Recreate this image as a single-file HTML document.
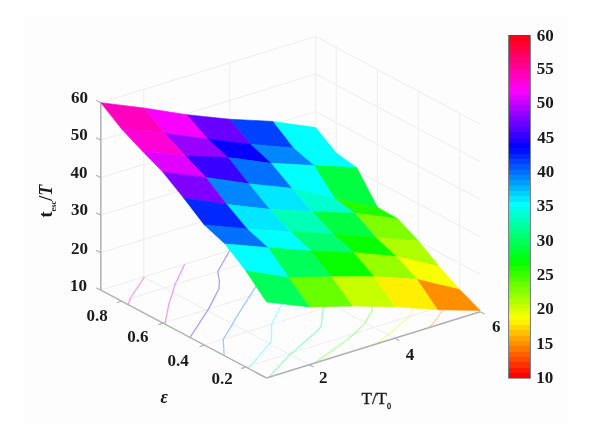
<!DOCTYPE html><html><head><meta charset="utf-8"><style>html,body{margin:0;padding:0;background:#fff;}svg{display:block;filter:blur(0.5px);}</style></head><body><svg width="600" height="429" viewBox="0 0 600 429">
<rect width="600" height="429" fill="#ffffff"/><rect x="24" y="16" width="543.5" height="408" fill="#fdfdfd"/>
<g stroke-linecap="round"><line x1="100.8" y1="290.2" x2="315.7" y2="224" stroke="#f1f1f1" stroke-width="1.3"/><line x1="100.8" y1="252.7" x2="315.7" y2="186.5" stroke="#f1f1f1" stroke-width="1.3"/><line x1="100.8" y1="215.2" x2="315.7" y2="149" stroke="#f1f1f1" stroke-width="1.3"/><line x1="100.8" y1="177.7" x2="315.7" y2="111.5" stroke="#f1f1f1" stroke-width="1.3"/><line x1="100.8" y1="140.2" x2="315.7" y2="74" stroke="#f1f1f1" stroke-width="1.3"/><line x1="100.8" y1="102.7" x2="315.7" y2="36.5" stroke="#f1f1f1" stroke-width="1.3"/><line x1="143.78" y1="276.96" x2="143.78" y2="89.46" stroke="#f1f1f1" stroke-width="1.3"/><line x1="229.74" y1="250.48" x2="229.74" y2="62.98" stroke="#f1f1f1" stroke-width="1.3"/><line x1="315.7" y1="224" x2="315.7" y2="36.5" stroke="#f1f1f1" stroke-width="1.3"/><line x1="315.7" y1="224" x2="480.2" y2="311.8" stroke="#f1f1f1" stroke-width="1.3"/><line x1="315.7" y1="186.5" x2="480.2" y2="274.3" stroke="#f1f1f1" stroke-width="1.3"/><line x1="315.7" y1="149" x2="480.2" y2="236.8" stroke="#f1f1f1" stroke-width="1.3"/><line x1="315.7" y1="111.5" x2="480.2" y2="199.3" stroke="#f1f1f1" stroke-width="1.3"/><line x1="315.7" y1="74" x2="480.2" y2="161.8" stroke="#f1f1f1" stroke-width="1.3"/><line x1="315.7" y1="36.5" x2="480.2" y2="124.3" stroke="#f1f1f1" stroke-width="1.3"/><line x1="459.64" y1="300.82" x2="459.64" y2="113.32" stroke="#f1f1f1" stroke-width="1.3"/><line x1="418.51" y1="278.88" x2="418.51" y2="91.38" stroke="#f1f1f1" stroke-width="1.3"/><line x1="377.39" y1="256.93" x2="377.39" y2="69.43" stroke="#f1f1f1" stroke-width="1.3"/><line x1="336.26" y1="234.97" x2="336.26" y2="47.47" stroke="#f1f1f1" stroke-width="1.3"/><line x1="143.78" y1="276.96" x2="309.24" y2="364.76" stroke="#f1f1f1" stroke-width="1.3"/><line x1="229.74" y1="250.48" x2="394.72" y2="338.28" stroke="#f1f1f1" stroke-width="1.3"/><line x1="315.7" y1="224" x2="480.2" y2="311.8" stroke="#f1f1f1" stroke-width="1.3"/><line x1="245.79" y1="367.02" x2="459.64" y2="300.82" stroke="#f1f1f1" stroke-width="1.3"/><line x1="204.36" y1="345.07" x2="418.51" y2="278.88" stroke="#f1f1f1" stroke-width="1.3"/><line x1="162.94" y1="323.12" x2="377.39" y2="256.93" stroke="#f1f1f1" stroke-width="1.3"/><line x1="121.51" y1="301.17" x2="336.26" y2="234.97" stroke="#f1f1f1" stroke-width="1.3"/></g>
<g><polyline points="428.37,327.86 433.8,323.09 445.98,305.05 447.01,294.08" fill="none" stroke="#ff8f00" stroke-width="1.3" stroke-opacity="0.36"/><polyline points="376.39,343.96 388.24,334.83 409.32,316.4 411.99,311.47 413,297.92 419.1,279.19" fill="none" stroke="#dfff00" stroke-width="1.3" stroke-opacity="0.36"/><polyline points="314.85,363.02 339.78,345.04 355.58,333.04 365.27,322.61 372.26,310.52 371.31,293.47 373,290.69 381.4,273.01 364.66,260.85 372.7,254.42" fill="none" stroke="#38ff00" stroke-width="1.3" stroke-opacity="0.36"/><polyline points="268.86,377.27 289.85,354.47 292.5,352.56 315.64,332.21 321.07,326.35 323.14,308.36 326.31,301.87 334.21,287.59 328.4,272.05 331.39,268.51 359.18,247.21" fill="none" stroke="#00ff58" stroke-width="1.3" stroke-opacity="0.36"/><polyline points="248.27,368.34 250.95,365.43 269.42,343.63 271.54,341.68 271.65,324.27 277.74,312.07 281.9,303.75 293.83,284.59 294.09,282.64 313.85,259.21 313.84,259.16 308.49,243.54 319.45,226" fill="none" stroke="#00ffff" stroke-width="1.3" stroke-opacity="0.36"/><polyline points="224.17,355.57 223.25,339.24 232.55,324.06 235.97,317.94 249.21,296.91 249.55,296.39 263.46,274.75 262.46,267.89 262.24,257.79 277.1,239.57 280.06,234.98" fill="none" stroke="#0070ff" stroke-width="1.3" stroke-opacity="0.36"/><polyline points="189.99,337.46 194.32,330.8 207.43,310.73 208.52,309.05 219.01,288.46 219.45,281.09 217.73,271.51 229.78,250.5 229.82,250.45" fill="none" stroke="#2000ff" stroke-width="1.3" stroke-opacity="0.36"/><polyline points="164.31,323.85 165.22,322.42 168.92,303.92 172.74,292.33 174.87,284.73 184.66,264.37" fill="none" stroke="#c700ff" stroke-width="1.3" stroke-opacity="0.36"/><polyline points="128.2,304.72 130.14,298.51 144.19,277.18 144.4,276.77" fill="none" stroke="#ff00a7" stroke-width="1.3" stroke-opacity="0.36"/></g>
<g stroke-linecap="butt"><line x1="100.8" y1="290.2" x2="100.8" y2="102.7" stroke="#b0b0b0" stroke-width="1.5"/><line x1="100.8" y1="290.2" x2="266.5" y2="378" stroke="#b0b0b0" stroke-width="1.5"/><line x1="266.5" y1="378" x2="480.2" y2="311.8" stroke="#b0b0b0" stroke-width="1.5"/><line x1="100.8" y1="290.2" x2="96.2" y2="287.7" stroke="#b0b0b0" stroke-width="1.1"/><line x1="100.8" y1="252.7" x2="96.2" y2="250.2" stroke="#b0b0b0" stroke-width="1.1"/><line x1="100.8" y1="215.2" x2="96.2" y2="212.7" stroke="#b0b0b0" stroke-width="1.1"/><line x1="100.8" y1="177.7" x2="96.2" y2="175.2" stroke="#b0b0b0" stroke-width="1.1"/><line x1="100.8" y1="140.2" x2="96.2" y2="137.7" stroke="#b0b0b0" stroke-width="1.1"/><line x1="100.8" y1="102.7" x2="96.2" y2="100.2" stroke="#b0b0b0" stroke-width="1.1"/><line x1="245.79" y1="367.02" x2="240.99" y2="368.62" stroke="#b0b0b0" stroke-width="1.1"/><line x1="204.36" y1="345.07" x2="199.56" y2="346.68" stroke="#b0b0b0" stroke-width="1.1"/><line x1="162.94" y1="323.12" x2="158.14" y2="324.73" stroke="#b0b0b0" stroke-width="1.1"/><line x1="121.51" y1="301.17" x2="116.71" y2="302.77" stroke="#b0b0b0" stroke-width="1.1"/><line x1="309.24" y1="364.76" x2="313.64" y2="367.06" stroke="#b0b0b0" stroke-width="1.1"/><line x1="394.72" y1="338.28" x2="399.12" y2="340.58" stroke="#b0b0b0" stroke-width="1.1"/><line x1="480.2" y1="311.8" x2="484.6" y2="314.1" stroke="#b0b0b0" stroke-width="1.1"/></g>
<g><polygon points="272.72,121.42 315.7,127.61 336.26,153.05 293.31,148" fill="#00ffff" stroke="#00ffff" stroke-width="0.6" stroke-linejoin="round"/><polygon points="293.31,148 336.26,153.05 356.82,167.68 313.91,165.46" fill="#00ffff" stroke="#00ffff" stroke-width="0.6" stroke-linejoin="round"/><polygon points="229.74,119.2 272.72,121.42 293.31,148 250.36,144.26" fill="#0040ff" stroke="#0040ff" stroke-width="0.6" stroke-linejoin="round"/><polygon points="313.91,165.46 356.82,167.68 377.39,207.18 334.5,198.5" fill="#00ff40" stroke="#00ff40" stroke-width="0.6" stroke-linejoin="round"/><polygon points="250.36,144.26 293.31,148 313.91,165.46 270.99,163.24" fill="#0087ff" stroke="#0087ff" stroke-width="0.6" stroke-linejoin="round"/><polygon points="186.76,114.7 229.74,119.2 250.36,144.26 207.41,139" fill="#6800ff" stroke="#6800ff" stroke-width="0.6" stroke-linejoin="round"/><polygon points="334.5,198.5 377.39,207.18 397.95,218.94 355.09,213.3" fill="#20ff00" stroke="#20ff00" stroke-width="0.6" stroke-linejoin="round"/><polygon points="270.99,163.24 313.91,165.46 334.5,198.5 291.61,188.3" fill="#00ffff" stroke="#00ffff" stroke-width="0.6" stroke-linejoin="round"/><polygon points="207.41,139 250.36,144.26 270.99,163.24 228.07,157.6" fill="#0800ff" stroke="#0800ff" stroke-width="0.6" stroke-linejoin="round"/><polygon points="143.78,107.92 186.76,114.7 207.41,139 164.46,133.36" fill="#f700ff" stroke="#f700ff" stroke-width="0.6" stroke-linejoin="round"/><polygon points="355.09,213.3 397.95,218.94 418.51,240.96 375.68,237.6" fill="#80ff00" stroke="#80ff00" stroke-width="0.6" stroke-linejoin="round"/><polygon points="291.61,188.3 334.5,198.5 355.09,213.3 312.23,211.84" fill="#00ffcf" stroke="#00ffcf" stroke-width="0.6" stroke-linejoin="round"/><polygon points="228.07,157.6 270.99,163.24 291.61,188.3 248.72,183.8" fill="#0070ff" stroke="#0070ff" stroke-width="0.6" stroke-linejoin="round"/><polygon points="164.46,133.36 207.41,139 228.07,157.6 185.15,155.76" fill="#9700ff" stroke="#9700ff" stroke-width="0.6" stroke-linejoin="round"/><polygon points="100.8,102.7 143.78,107.92 164.46,133.36 121.51,128.86" fill="#ff00bf" stroke="#ff00bf" stroke-width="0.6" stroke-linejoin="round"/><polygon points="375.68,237.6 418.51,240.96 439.07,266.4 396.28,256.58" fill="#afff00" stroke="#afff00" stroke-width="0.6" stroke-linejoin="round"/><polygon points="312.23,211.84 355.09,213.3 375.68,237.6 332.85,233.86" fill="#00ff40" stroke="#00ff40" stroke-width="0.6" stroke-linejoin="round"/><polygon points="248.72,183.8 291.61,188.3 312.23,211.84 269.37,209.24" fill="#00e7ff" stroke="#00e7ff" stroke-width="0.6" stroke-linejoin="round"/><polygon points="185.15,155.76 228.07,157.6 248.72,183.8 205.83,177.4" fill="#3800ff" stroke="#3800ff" stroke-width="0.6" stroke-linejoin="round"/><polygon points="121.51,128.86 164.46,133.36 185.15,155.76 142.23,150.88" fill="#ff00d7" stroke="#ff00d7" stroke-width="0.6" stroke-linejoin="round"/><polygon points="396.28,256.58 439.07,266.4 459.64,289.56 416.87,279.36" fill="#f7ff00" stroke="#f7ff00" stroke-width="0.6" stroke-linejoin="round"/><polygon points="332.85,233.86 375.68,237.6 396.28,256.58 353.48,252.46" fill="#08ff00" stroke="#08ff00" stroke-width="0.6" stroke-linejoin="round"/><polygon points="269.37,209.24 312.23,211.84 332.85,233.86 290.02,231.64" fill="#00ffb7" stroke="#00ffb7" stroke-width="0.6" stroke-linejoin="round"/><polygon points="205.83,177.4 248.72,183.8 269.37,209.24 226.51,204.36" fill="#0087ff" stroke="#0087ff" stroke-width="0.6" stroke-linejoin="round"/><polygon points="142.23,150.88 185.15,155.76 205.83,177.4 162.94,172.14" fill="#df00ff" stroke="#df00ff" stroke-width="0.6" stroke-linejoin="round"/><polygon points="416.87,279.36 459.64,289.56 480.2,310.44 437.46,309.74" fill="#ff8f00" stroke="#ff8f00" stroke-width="0.6" stroke-linejoin="round"/><polygon points="353.48,252.46 396.28,256.58 416.87,279.36 374.1,276.76" fill="#97ff00" stroke="#97ff00" stroke-width="0.6" stroke-linejoin="round"/><polygon points="290.02,231.64 332.85,233.86 353.48,252.46 310.68,251" fill="#00ff70" stroke="#00ff70" stroke-width="0.6" stroke-linejoin="round"/><polygon points="226.51,204.36 269.37,209.24 290.02,231.64 247.19,229.04" fill="#00e7ff" stroke="#00e7ff" stroke-width="0.6" stroke-linejoin="round"/><polygon points="162.94,172.14 205.83,177.4 226.51,204.36 183.65,197.96" fill="#8000ff" stroke="#8000ff" stroke-width="0.6" stroke-linejoin="round"/><polygon points="374.1,276.76 416.87,279.36 437.46,309.74 394.72,306.76" fill="#ffef00" stroke="#ffef00" stroke-width="0.6" stroke-linejoin="round"/><polygon points="310.68,251 353.48,252.46 374.1,276.76 331.33,276.82" fill="#08ff00" stroke="#08ff00" stroke-width="0.6" stroke-linejoin="round"/><polygon points="247.19,229.04 290.02,231.64 310.68,251 267.88,247.64" fill="#00ffff" stroke="#00ffff" stroke-width="0.6" stroke-linejoin="round"/><polygon points="183.65,197.96 226.51,204.36 247.19,229.04 204.36,224.92" fill="#0028ff" stroke="#0028ff" stroke-width="0.6" stroke-linejoin="round"/><polygon points="331.33,276.82 374.1,276.76 394.72,306.76 351.98,306.06" fill="#c7ff00" stroke="#c7ff00" stroke-width="0.6" stroke-linejoin="round"/><polygon points="267.88,247.64 310.68,251 331.33,276.82 288.56,277.64" fill="#00ff58" stroke="#00ff58" stroke-width="0.6" stroke-linejoin="round"/><polygon points="204.36,224.92 247.19,229.04 267.88,247.64 225.08,243.9" fill="#0070ff" stroke="#0070ff" stroke-width="0.6" stroke-linejoin="round"/><polygon points="288.56,277.64 331.33,276.82 351.98,306.06 309.24,306.88" fill="#68ff00" stroke="#68ff00" stroke-width="0.6" stroke-linejoin="round"/><polygon points="225.08,243.9 267.88,247.64 288.56,277.64 245.79,270.86" fill="#00ffff" stroke="#00ffff" stroke-width="0.6" stroke-linejoin="round"/><polygon points="245.79,270.86 288.56,277.64 309.24,306.88 266.5,302" fill="#00ff58" stroke="#00ff58" stroke-width="0.6" stroke-linejoin="round"/></g>
<g shape-rendering="crispEdges"><rect x="508.6" y="372.83" width="21.8" height="5.65" fill="#ff0000"/><rect x="508.6" y="367.47" width="21.8" height="5.65" fill="#ff1800"/><rect x="508.6" y="362.12" width="21.8" height="5.65" fill="#ff3000"/><rect x="508.6" y="356.76" width="21.8" height="5.65" fill="#ff4800"/><rect x="508.6" y="351.41" width="21.8" height="5.65" fill="#ff6000"/><rect x="508.6" y="346.05" width="21.8" height="5.65" fill="#ff7800"/><rect x="508.6" y="340.7" width="21.8" height="5.65" fill="#ff8f00"/><rect x="508.6" y="335.34" width="21.8" height="5.65" fill="#ffa700"/><rect x="508.6" y="329.99" width="21.8" height="5.65" fill="#ffbf00"/><rect x="508.6" y="324.63" width="21.8" height="5.65" fill="#ffd700"/><rect x="508.6" y="319.28" width="21.8" height="5.65" fill="#ffef00"/><rect x="508.6" y="313.92" width="21.8" height="5.65" fill="#f7ff00"/><rect x="508.6" y="308.57" width="21.8" height="5.65" fill="#dfff00"/><rect x="508.6" y="303.21" width="21.8" height="5.65" fill="#c7ff00"/><rect x="508.6" y="297.86" width="21.8" height="5.65" fill="#afff00"/><rect x="508.6" y="292.5" width="21.8" height="5.65" fill="#97ff00"/><rect x="508.6" y="287.15" width="21.8" height="5.65" fill="#80ff00"/><rect x="508.6" y="281.8" width="21.8" height="5.65" fill="#68ff00"/><rect x="508.6" y="276.44" width="21.8" height="5.65" fill="#50ff00"/><rect x="508.6" y="271.09" width="21.8" height="5.65" fill="#38ff00"/><rect x="508.6" y="265.73" width="21.8" height="5.65" fill="#20ff00"/><rect x="508.6" y="260.38" width="21.8" height="5.65" fill="#08ff00"/><rect x="508.6" y="255.02" width="21.8" height="5.65" fill="#00ff10"/><rect x="508.6" y="249.67" width="21.8" height="5.65" fill="#00ff28"/><rect x="508.6" y="244.31" width="21.8" height="5.65" fill="#00ff40"/><rect x="508.6" y="238.96" width="21.8" height="5.65" fill="#00ff58"/><rect x="508.6" y="233.6" width="21.8" height="5.65" fill="#00ff70"/><rect x="508.6" y="228.25" width="21.8" height="5.65" fill="#00ff87"/><rect x="508.6" y="222.89" width="21.8" height="5.65" fill="#00ff9f"/><rect x="508.6" y="217.54" width="21.8" height="5.65" fill="#00ffb7"/><rect x="508.6" y="212.18" width="21.8" height="5.65" fill="#00ffcf"/><rect x="508.6" y="206.83" width="21.8" height="5.65" fill="#00ffe7"/><rect x="508.6" y="201.48" width="21.8" height="5.65" fill="#00ffff"/><rect x="508.6" y="196.12" width="21.8" height="5.65" fill="#00e7ff"/><rect x="508.6" y="190.77" width="21.8" height="5.65" fill="#00cfff"/><rect x="508.6" y="185.41" width="21.8" height="5.65" fill="#00b7ff"/><rect x="508.6" y="180.06" width="21.8" height="5.65" fill="#009fff"/><rect x="508.6" y="174.7" width="21.8" height="5.65" fill="#0087ff"/><rect x="508.6" y="169.35" width="21.8" height="5.65" fill="#0070ff"/><rect x="508.6" y="163.99" width="21.8" height="5.65" fill="#0058ff"/><rect x="508.6" y="158.64" width="21.8" height="5.65" fill="#0040ff"/><rect x="508.6" y="153.28" width="21.8" height="5.65" fill="#0028ff"/><rect x="508.6" y="147.93" width="21.8" height="5.65" fill="#0010ff"/><rect x="508.6" y="142.57" width="21.8" height="5.65" fill="#0800ff"/><rect x="508.6" y="137.22" width="21.8" height="5.65" fill="#2000ff"/><rect x="508.6" y="131.86" width="21.8" height="5.65" fill="#3800ff"/><rect x="508.6" y="126.51" width="21.8" height="5.65" fill="#5000ff"/><rect x="508.6" y="121.16" width="21.8" height="5.65" fill="#6800ff"/><rect x="508.6" y="115.8" width="21.8" height="5.65" fill="#8000ff"/><rect x="508.6" y="110.45" width="21.8" height="5.65" fill="#9700ff"/><rect x="508.6" y="105.09" width="21.8" height="5.65" fill="#af00ff"/><rect x="508.6" y="99.74" width="21.8" height="5.65" fill="#c700ff"/><rect x="508.6" y="94.38" width="21.8" height="5.65" fill="#df00ff"/><rect x="508.6" y="89.03" width="21.8" height="5.65" fill="#f700ff"/><rect x="508.6" y="83.67" width="21.8" height="5.65" fill="#ff00ef"/><rect x="508.6" y="78.32" width="21.8" height="5.65" fill="#ff00d7"/><rect x="508.6" y="72.96" width="21.8" height="5.65" fill="#ff00bf"/><rect x="508.6" y="67.61" width="21.8" height="5.65" fill="#ff00a7"/><rect x="508.6" y="62.25" width="21.8" height="5.65" fill="#ff008f"/><rect x="508.6" y="56.9" width="21.8" height="5.65" fill="#ff0078"/><rect x="508.6" y="51.54" width="21.8" height="5.65" fill="#ff0060"/><rect x="508.6" y="46.19" width="21.8" height="5.65" fill="#ff0048"/><rect x="508.6" y="40.83" width="21.8" height="5.65" fill="#ff0030"/><rect x="508.6" y="35.48" width="21.8" height="5.65" fill="#ff0018"/></g>
<rect x="508.6" y="35.5" width="21.8" height="342.7" fill="none" stroke="#404850" stroke-width="0.9" stroke-opacity="0.8"/>
<text x="79.6" y="103.2" font-size="17" text-anchor="middle" fill="#1a1a1a" font-family="Liberation Serif, serif" font-weight="bold">60</text><text x="79.3" y="140" font-size="17" text-anchor="middle" fill="#1a1a1a" font-family="Liberation Serif, serif" font-weight="bold">50</text><text x="79.1" y="178.2" font-size="17" text-anchor="middle" fill="#1a1a1a" font-family="Liberation Serif, serif" font-weight="bold">40</text><text x="79.6" y="215" font-size="17" text-anchor="middle" fill="#1a1a1a" font-family="Liberation Serif, serif" font-weight="bold">30</text><text x="79.6" y="254" font-size="17" text-anchor="middle" fill="#1a1a1a" font-family="Liberation Serif, serif" font-weight="bold">20</text><text x="78.6" y="291.15" font-size="17" text-anchor="middle" fill="#1a1a1a" font-family="Liberation Serif, serif" font-weight="bold">10</text><text x="97.2" y="320.7" font-size="17" text-anchor="middle" fill="#1a1a1a" font-family="Liberation Serif, serif" font-weight="bold">0.8</text><text x="137.8" y="342" font-size="17" text-anchor="middle" fill="#1a1a1a" font-family="Liberation Serif, serif" font-weight="bold">0.6</text><text x="178.1" y="365.55" font-size="17" text-anchor="middle" fill="#1a1a1a" font-family="Liberation Serif, serif" font-weight="bold">0.4</text><text x="222" y="383.8" font-size="17" text-anchor="middle" fill="#1a1a1a" font-family="Liberation Serif, serif" font-weight="bold">0.2</text><text x="323.3" y="383" font-size="17" text-anchor="middle" fill="#1a1a1a" font-family="Liberation Serif, serif" font-weight="bold">2</text><text x="410" y="359.7" font-size="17" text-anchor="middle" fill="#1a1a1a" font-family="Liberation Serif, serif" font-weight="bold">4</text><text x="496.2" y="332.35" font-size="17" text-anchor="middle" fill="#1a1a1a" font-family="Liberation Serif, serif" font-weight="bold">6</text><text x="545.3" y="40.5" font-size="17" text-anchor="middle" fill="#1a1a1a" font-family="Liberation Serif, serif" font-weight="bold">60</text><text x="545.3" y="74.48" font-size="17" text-anchor="middle" fill="#1a1a1a" font-family="Liberation Serif, serif" font-weight="bold">55</text><text x="545.3" y="108.46" font-size="17" text-anchor="middle" fill="#1a1a1a" font-family="Liberation Serif, serif" font-weight="bold">50</text><text x="545.8" y="143.44" font-size="17" text-anchor="middle" fill="#1a1a1a" font-family="Liberation Serif, serif" font-weight="bold">45</text><text x="545.8" y="177.42" font-size="17" text-anchor="middle" fill="#1a1a1a" font-family="Liberation Serif, serif" font-weight="bold">40</text><text x="545.3" y="211.4" font-size="17" text-anchor="middle" fill="#1a1a1a" font-family="Liberation Serif, serif" font-weight="bold">35</text><text x="545.3" y="246.38" font-size="17" text-anchor="middle" fill="#1a1a1a" font-family="Liberation Serif, serif" font-weight="bold">30</text><text x="545.3" y="280.36" font-size="17" text-anchor="middle" fill="#1a1a1a" font-family="Liberation Serif, serif" font-weight="bold">25</text><text x="545.3" y="314.34" font-size="17" text-anchor="middle" fill="#1a1a1a" font-family="Liberation Serif, serif" font-weight="bold">20</text><text x="544.8" y="349.32" font-size="17" text-anchor="middle" fill="#1a1a1a" font-family="Liberation Serif, serif" font-weight="bold">15</text><text x="544.8" y="383.3" font-size="17" text-anchor="middle" fill="#1a1a1a" font-family="Liberation Serif, serif" font-weight="bold">10</text><text x="361.5" y="404.25" font-size="17" fill="#1a1a1a" font-family="Liberation Serif, serif" font-weight="normal" stroke="#1a1a1a" stroke-width="0.35">T/T<tspan font-size="8" dy="5">0</tspan></text><text x="164.25" y="402.75" font-size="18" font-style="italic" text-anchor="middle" fill="#1a1a1a" font-family="Liberation Serif, serif" font-weight="bold">ε</text><text transform="translate(51.5,217.5) rotate(-90)" font-size="18" fill="#1a1a1a" font-family="Liberation Serif, serif" font-weight="bold">t<tspan font-size="8.5" dy="4.5">esc</tspan><tspan dy="-4.5">/</tspan><tspan font-style="italic">T</tspan></text>
</svg></body></html>
